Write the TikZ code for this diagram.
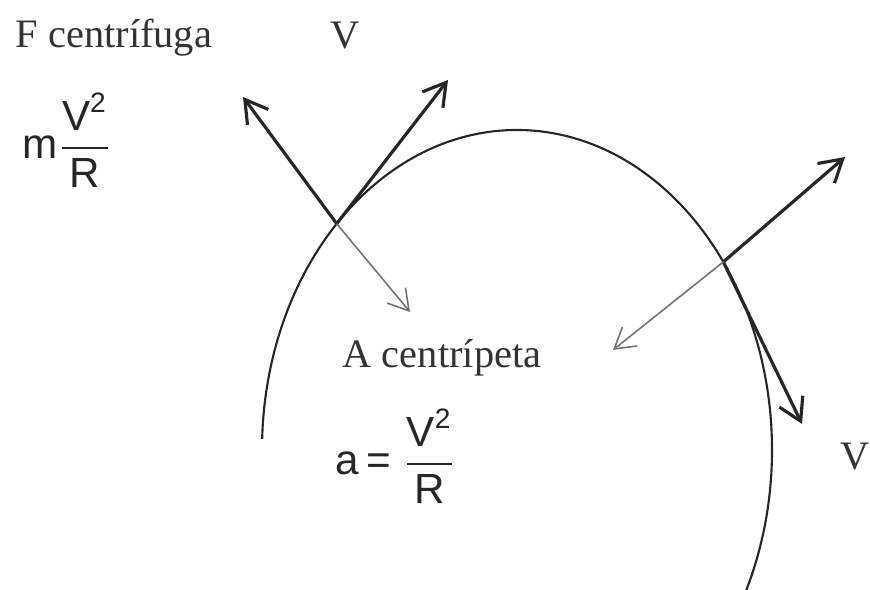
\documentclass[tikz,border=0pt]{standalone}
\usepackage{amsmath}
\usepackage{fontspec}
\setmainfont{Liberation Serif}
\setsansfont{Liberation Sans}
\usetikzlibrary{arrows.meta,calc}
\tikzset{
  vec/.style={-{Straight Barb[length=2.2mm,width=2.6mm]}, line width=0.9pt, draw=black!85},
  acc/.style={-{Straight Barb[length=2mm,width=2.4mm]}, line width=0.45pt, draw=black!55},
  orbit/.style={line width=0.6pt, draw=black!85},
  lbl/.style={font=\fontsize{11.5}{14}\selectfont, text=black!80, inner sep=0pt},
  eq/.style={font=\sffamily\fontsize{12}{14}\selectfont, text=black!85, inner sep=0pt}
}
\begin{document}
\begin{tikzpicture}
\useasboundingbox (0,0) rectangle (8.7,5.9);
% trajectory
\coordinate (ctr) at (5.17,1.40);
\draw[orbit] ($(ctr)+(178:2.55 and 3.2)$) arc[start angle=178, end angle=-27, x radius=2.55, y radius=3.2];
% upper point
\coordinate (p1) at ($(ctr)+(135:2.55 and 3.2)$);
\coordinate (f1) at (2.43,4.93);
\coordinate (v1) at (4.48,5.10);
\coordinate (a1) at (4.10,2.78);
\draw[vec] (p1) -- (f1);
\draw[vec] (p1) -- (v1);
\draw[acc] (p1) -- (a1);
% right point
\coordinate (p2) at ($(ctr)+(36:2.55 and 3.2)$);
\coordinate (f2) at (8.45,4.33);
\coordinate (v2) at (8.02,1.66);
\coordinate (a2) at (6.13,2.40);
\draw[vec] (p2) -- (f2);
\draw[vec] (p2) -- (v2);
\draw[acc] (p2) -- (a2);
% labels
\node[lbl, anchor=base west] (fcent) at (0.15,5.42) {F centrífuga};
\node[eq, anchor=west] (fform) at (0.22,4.50) {$\textsf{m}\dfrac{\textsf{V}^{\textsf{2}}}{\textsf{R}}$};
\node[lbl, anchor=base west] (vtop) at (3.30,5.41) {V};
\node[lbl, anchor=base west] (acent) at (3.42,2.22) {A centrípeta};
\node[eq, anchor=west] (aform) at (3.35,1.34) {$\textsf{a}\,\textsf{=}\;\dfrac{\textsf{V}^{\textsf{2}}}{\textsf{R}}$};
\node[lbl, anchor=base west] (vright) at (8.40,1.20) {V};
\end{tikzpicture}
\end{document}
